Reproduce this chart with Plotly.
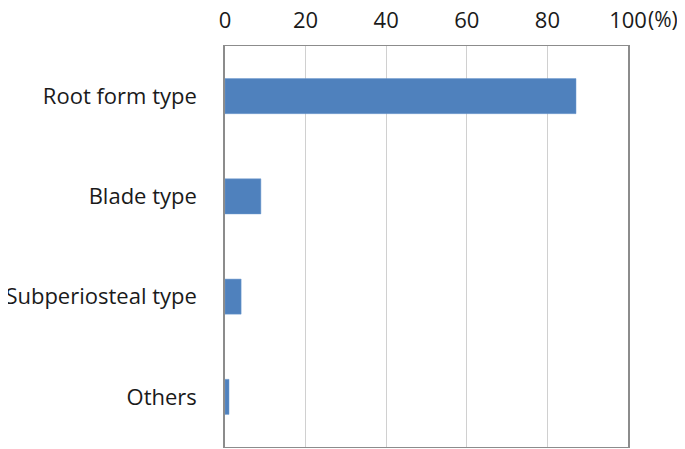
import plotly.graph_objects as go

categories = ["Root form type", "Blade type", "Subperiosteal type", "Others"]
values = [87.1, 8.9, 4.0, 1.0]
x_ticks = [0, 20, 40, 60, 80, 100]

fig = go.Figure(go.Bar(
    x=values, y=categories, orientation="h",
    marker=dict(color="#4F81BD", line=dict(color="#6f9bd1", width=0.5)),
))

font = dict(family="Open Sans", size=22, color="#1a1a1a")
fig.update_layout(
    width=685, height=449,
    margin=dict(l=217, r=65, t=38, b=10),
    paper_bgcolor="white", plot_bgcolor="white",
    bargap=0.65, showlegend=False, font=font,
    xaxis=dict(range=[0, 100], side="top", tickvals=x_ticks, automargin=False,
               showgrid=True, gridcolor="#d0d0d0", gridwidth=1,
               showline=True, linecolor="#8c8c8c", linewidth=1, mirror=True,
               zeroline=False, ticks="", ticklabelstandoff=8, tickfont=font),
    yaxis=dict(categoryorder="array", categoryarray=categories[::-1], automargin=False,
               showline=True, linecolor="#8c8c8c", linewidth=1.5, mirror=True,
               ticks="", ticklabelstandoff=22, tickfont=font, showgrid=False),
    annotations=[dict(text="(%)", x=1.0, y=1.0, xref="paper", yref="paper",
                      xanchor="left", yanchor="bottom", xshift=18, yshift=11,
                      showarrow=False, font=dict(family="Open Sans", size=21, color="#1a1a1a"))],
)

fig.write_html("out.html")
